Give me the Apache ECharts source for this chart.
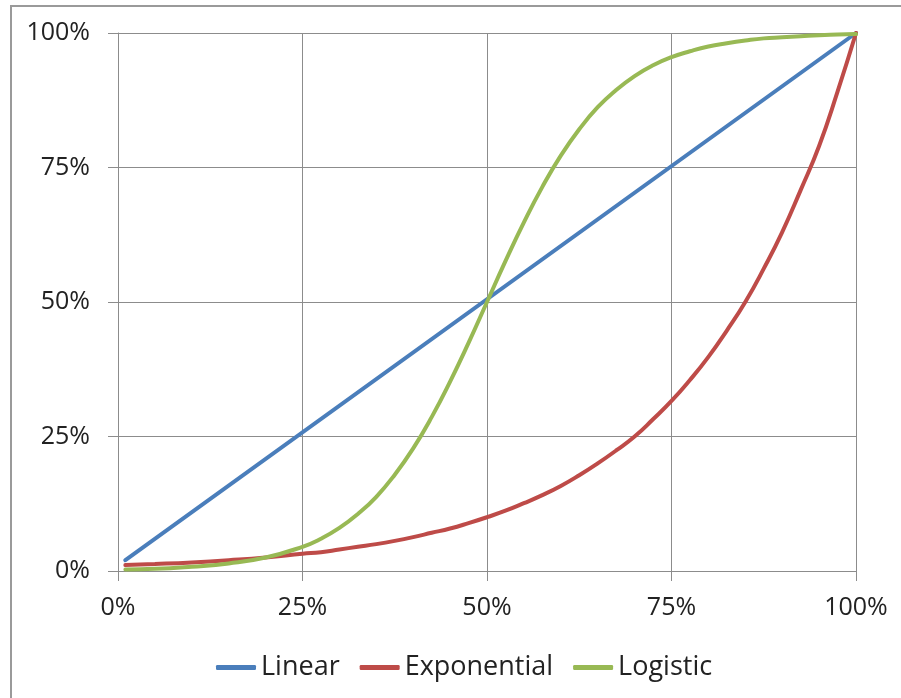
<!DOCTYPE html>
<html>
<head>
<meta charset="utf-8">
<script src="https://cdn.jsdelivr.net/npm/echarts@6/dist/echarts.min.js"></script>
<style>
  html, body { margin: 0; padding: 0; background: #fff; }
  #chart { width: 901px; height: 698px; }
</style>
</head>
<body>
<div id="chart"></div>
<script>
// Share of progress (x, %) against share of outcome (y, %) for three curve shapes
const seriesNames = ['Linear', 'Exponential', 'Logistic'];
const xTicks = [0, 25, 50, 75, 100];

const linearX = [1, 100];
const linearY = [2, 100];

const curveX = [1, 5, 10, 15, 20, 25, 27.5, 30, 32.5, 35, 37.5, 40, 42.5, 45, 47.5, 50,
                52.5, 55, 57.5, 60, 62.5, 65, 67.5, 70, 72.5, 75, 77.5, 80, 82.5, 85,
                87.5, 90, 92.5, 95, 97.5, 100];
const exponentialY = [1.1, 1.3, 1.6, 2.0, 2.5, 3.2, 3.5, 4.0, 4.5, 5.0, 5.6, 6.3, 7.1, 7.9, 8.9, 10,
                      11.2, 12.6, 14.1, 15.8, 17.8, 20, 22.4, 25, 28.2, 31.6, 35.5, 39.8, 44.7, 50,
                      56.2, 63, 70.8, 79, 89.1, 100];
const logisticY = [0.3, 0.4, 0.8, 1.4, 2.5, 4.5, 6.0, 8.0, 10.6, 13.8, 17.9, 22.8, 28.6, 35.2, 42.4, 50,
                   57.6, 64.8, 71.4, 77.2, 82.1, 86.2, 89.4, 92.0, 94.0, 95.5, 96.6, 97.5, 98.1, 98.6,
                   99.0, 99.2, 99.4, 99.6, 99.7, 99.8];

const colors = ['#4A7EBB', '#BE4B48', '#98B954'];
const gridGray = '#8c8c8c';
const font = 'Open Sans';

const pairs = (xs, ys) => xs.map((x, i) => [x, ys[i]]);

const chart = echarts.init(document.getElementById('chart'));
chart.setOption({
  animation: false,
  backgroundColor: '#ffffff',
  graphic: [{
    type: 'rect',
    shape: { x: 11, y: 6, width: 950, height: 760 },
    style: { fill: 'none', stroke: '#9a9a9a', lineWidth: 2 },
    silent: true
  }],
  grid: { left: 118, right: 45, top: 33, bottom: 127, containLabel: false },
  xAxis: {
    type: 'value', min: xTicks[0], max: xTicks[xTicks.length - 1], interval: 25,
    axisLine: { show: true, lineStyle: { color: gridGray, width: 1 } },
    axisTick: { show: true, length: 10, lineStyle: { color: gridGray, width: 1 } },
    splitLine: { show: true, lineStyle: { color: gridGray, width: 1 } },
    axisLabel: { formatter: '{value}%', margin: 24, color: '#222', fontFamily: font, fontSize: 25 }
  },
  yAxis: {
    type: 'value', min: 0, max: 100, interval: 25,
    axisLine: { show: true, lineStyle: { color: gridGray, width: 1 } },
    axisTick: { show: true, length: 10, lineStyle: { color: gridGray, width: 1 } },
    splitLine: { show: true, lineStyle: { color: gridGray, width: 1 } },
    axisLabel: { formatter: '{value}%', margin: 28, color: '#222', fontFamily: font, fontSize: 25 }
  },
  legend: {
    data: seriesNames,
    left: 211, top: 649,
    icon: 'roundRect', itemWidth: 40, itemHeight: 5, itemGap: 20,
    textStyle: { color: '#222', fontFamily: font, fontSize: 27 }
  },
  series: [
    { name: seriesNames[0], type: 'line', data: pairs(linearX, linearY),
      showSymbol: false, lineStyle: { width: 4, color: colors[0], cap: 'round' }, itemStyle: { color: colors[0] } },
    { name: seriesNames[1], type: 'line', data: pairs(curveX, exponentialY), smooth: 0.5,
      showSymbol: false, lineStyle: { width: 4, color: colors[1], cap: 'round' }, itemStyle: { color: colors[1] } },
    { name: seriesNames[2], type: 'line', data: pairs(curveX, logisticY), smooth: 0.5,
      showSymbol: false, lineStyle: { width: 4, color: colors[2], cap: 'round' }, itemStyle: { color: colors[2] } }
  ]
});
</script>
</body>
</html>
